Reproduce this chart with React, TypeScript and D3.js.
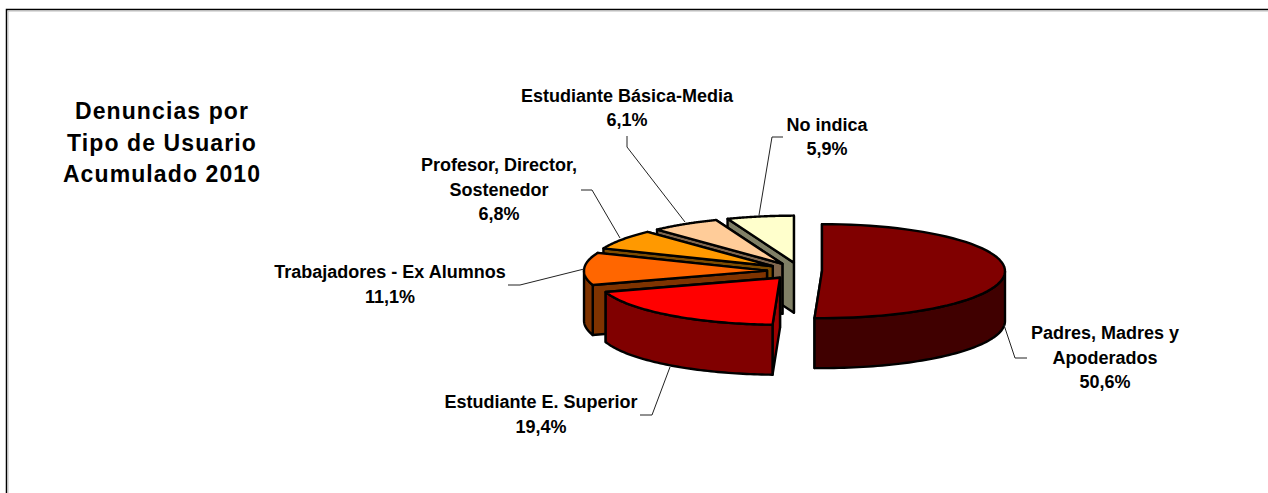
import React, { useRef, useEffect } from "react";
import * as d3 from "d3";

const names = [
  ["Padres, Madres y", "Apoderados"],
  ["Estudiante E. Superior"],
  ["Trabajadores - Ex Alumnos"],
  ["Profesor, Director,", "Sostenedor"],
  ["Estudiante Básica-Media"],
  ["No indica"],
];
const values = [50.6, 19.4, 11.1, 6.8, 6.1, 5.9];
const topColors = ["#800000", "#ff0000", "#ff6600", "#ff9900", "#ffcc99", "#ffffcc"];
const sideColors = ["#400000", "#800000", "#7f3300", "#7f4c00", "#80664d", "#808066"];
const cutColors = ["#600000", "#a00000", "#7f3300", "#7f4c00", "#80664d", "#808066"];
const titleLines = ["Denuncias por", "Tipo de Usuario", "Acumulado 2010"];

const width = 1268;
const height = 493;
const cx = 800;
const cy = 271;
const rx = 183;
const ry = 47;
const depth = 50;
const explode = [22, 33, 33, 33, 33, 33];

// donde van las etiquetas y sus lineas guia
const labelPos = [
  { x: 1105, y: [339, 364, 388], leader: [[1004, 325], [1015, 358], [1027, 358]] },
  { x: 541, y: [408, 433], leader: [[670, 367], [652, 415], [640, 415]] },
  { x: 390, y: [278, 303], leader: [[584, 269], [520, 285], [508, 285]] },
  { x: 499, y: [171, 196, 220], leader: [[620, 238], [592, 190], [581, 190]] },
  { x: 627, y: [102, 126], leader: [[685, 222], [627, 147], [627, 136]] },
  { x: 827, y: [131, 155], leader: [[759, 215], [772, 137], [783, 137]] },
];

const App = () => {
  const svgRef = useRef<SVGSVGElement | null>(null);

  useEffect(() => {
    const svg = d3.select(svgRef.current);
    svg.selectAll("*").remove();

    // borde: solo arriba y a la izquierda
    svg
      .append("path")
      .attr("d", `M6.5,${height} V9.5 H${width}`)
      .attr("fill", "none")
      .attr("stroke", "#000")
      .attr("stroke-width", 1.5);
    svg
      .append("path")
      .attr("d", `M8,${height} V11 H${width}`)
      .attr("fill", "none")
      .attr("stroke", "#bbb")
      .attr("stroke-width", 1);

    const arcs = d3.pie<number>().sort(null)(values);
    const line = d3.line();

    // proyeccion de la elipse, angulo en sentido horario desde arriba
    const project = (a: number, ox: number, oy: number, dz = 0): [number, number] => [
      ox + rx * Math.sin(a),
      oy - ry * Math.cos(a) + dz,
    ];
    const sweep = (a0: number, a1: number, ox: number, oy: number, dz = 0) =>
      d3
        .range(0, 61)
        .map((k) => project(a0 + ((a1 - a0) * k) / 60, ox, oy, dz));

    const drawFace = (pts: [number, number][], fill: string) =>
      svg
        .append("path")
        .attr("d", line(pts) + "Z")
        .attr("fill", fill)
        .attr("stroke", "#000")
        .attr("stroke-width", 2.4)
        .attr("stroke-linejoin", "round");

    // de atras hacia adelante
    [5, 4, 3, 2, 1, 0].forEach((i) => {
      const a = arcs[i];
      const mid = (a.startAngle + a.endAngle) / 2;
      const ox = cx + explode[i] * Math.sin(mid);
      const oy = cy - explode[i] * (ry / rx) * Math.cos(mid);
      const apex: [number, number] = [ox, oy];
      const apexLow: [number, number] = [ox, oy + depth];

      // caras de corte
      drawFace(
        [apex, project(a.endAngle, ox, oy), project(a.endAngle, ox, oy, depth), apexLow],
        cutColors[i]
      );
      drawFace(
        [apex, project(a.startAngle, ox, oy), project(a.startAngle, ox, oy, depth), apexLow],
        cutColors[i]
      );

      // costado curvo, solo la parte que mira al frente
      const from = Math.max(a.startAngle, Math.PI / 2);
      const to = Math.min(a.endAngle, (Math.PI * 3) / 2);
      if (to > from) {
        drawFace(
          [...sweep(from, to, ox, oy), ...sweep(to, from, ox, oy, depth)],
          sideColors[i]
        );
      }

      // cara superior
      drawFace([apex, ...sweep(a.startAngle, a.endAngle, ox, oy)], topColors[i]);
    });

    // lineas guia
    labelPos.forEach((p) => {
      svg
        .append("path")
        .attr("d", line(p.leader as [number, number][]))
        .attr("fill", "none")
        .attr("stroke", "#222")
        .attr("stroke-width", 1);
    });

    // etiquetas
    const font = "'Liberation Sans', Arial, sans-serif";
    names.forEach((lines, i) => {
      const rows = [...lines, values[i].toFixed(1).replace(".", ",") + "%"];
      rows.forEach((row, k) => {
        svg
          .append("text")
          .attr("x", labelPos[i].x)
          .attr("y", labelPos[i].y[k])
          .attr("text-anchor", "middle")
          .attr("font-family", font)
          .attr("font-weight", "bold")
          .attr("font-size", 18)
          .attr("fill", "#000")
          .text(row);
      });
    });

    // titulo
    const titleY = [119, 151, 182];
    titleLines.forEach((row, k) => {
      svg
        .append("text")
        .attr("x", 162)
        .attr("y", titleY[k])
        .attr("text-anchor", "middle")
        .attr("font-family", font)
        .attr("font-weight", "bold")
        .attr("font-size", 23)
        .attr("letter-spacing", 1.1)
        .attr("fill", "#000")
        .text(row);
    });
  }, []);

  return (
    <svg
      ref={svgRef}
      width={width}
      height={height}
      style={{ position: "absolute", left: 0, top: 0, background: "#fff" }}
    />
  );
};

export default App;
